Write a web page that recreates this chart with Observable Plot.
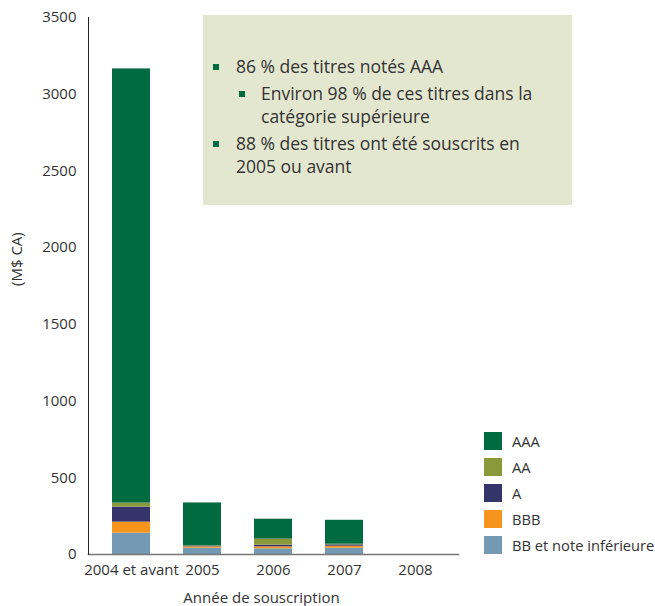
<!DOCTYPE html>
<html>
<head>
<meta charset="utf-8">
<script src="https://cdn.jsdelivr.net/npm/d3@7"></script>
<script src="https://cdn.jsdelivr.net/npm/@observablehq/plot@0.6"></script>
<style>
  body { margin: 0; background: #fff; font-family: "Open Sans", sans-serif; }
  #wrap { position: relative; width: 655px; height: 606px; }
  #note { position: absolute; left: 203px; top: 15px; width: 369px; height: 190px; background: #e4e7d0; box-sizing: border-box; padding-top: 40px; padding-right: 20px; color: #333; font-size: 17.5px; line-height: 23px; }
  #note .b { position: relative; padding-left: 33px; margin: 0; }
  #note .b.sub { padding-left: 58px; }
  #note .b::before { content: ""; position: absolute; left: 10px; top: 9px; width: 6px; height: 6px; background: #006a40; }
  #note .b.sub::before { left: 36px; }
  #note .b + .b { margin-top: 4px; }
  #legend { position: absolute; left: 484px; top: 432px; font-size: 14.7px; color: #333; }
  #legend .item { display: flex; align-items: center; height: 18px; margin-bottom: 8px; }
  #legend .sw { width: 18px; height: 18px; margin-right: 10px; flex: none; }
</style>
</head>
<body>
<div id="wrap"></div>
<script>
const years = ["2004 et avant", "2005", "2006", "2007", "2008"];
const ratings = ["BB et note inférieure", "BBB", "A", "AA", "AAA"];
const legendOrder = ["AAA", "AA", "A", "BBB", "BB et note inférieure"];
const colors = ["#7399b4", "#f7941d", "#34336a", "#8a9a3b", "#006a40"];
// values per rating, by year
const bbLow = [139, 41, 37, 41, 0];
const bbb   = [72, 9, 13, 13, 0];
const aVals = [98, 4, 11, 9, 0];
const aa    = [26, 2, 39, 4, 0];
const aaa   = [2830, 280, 130, 156, 0];
const yTicks = [0, 500, 1000, 1500, 2000, 2500, 3000, 3500];
const notes = [
  {text: "86 % des titres notés AAA", sub: false},
  {text: "Environ 98 % de ces titres dans la catégorie supérieure", sub: true},
  {text: "88 % des titres ont été souscrits en 2005 ou avant", sub: false}
];

const series = [bbLow, bbb, aVals, aa, aaa];
const data = [];
ratings.forEach((r, i) => years.forEach((y, j) => data.push({year: y, rating: r, value: series[i][j]})));

const chart = Plot.plot({
  width: 655,
  height: 606,
  marginTop: 17,
  marginBottom: 52,
  marginLeft: 88,
  marginRight: 197,
  style: {fontFamily: "Open Sans", fontSize: "15px", color: "#333", background: "#fff"},
  x: {domain: years, padding: 0.47, paddingOuter: 0.322, label: null},
  y: {domain: [0, 3500], label: null},
  color: {domain: ratings, range: colors},
  marks: [
    Plot.barY(data, {x: "year", y: "value", fill: "rating", order: ratings}),
    Plot.frame({anchor: "bottom", stroke: "#777", strokeWidth: 1.5}),
    Plot.frame({anchor: "left", stroke: "#222", strokeWidth: 1}),
    Plot.axisX({tickSize: 0, tickPadding: 10, label: null, fontSize: 15}),
    Plot.axisY({ticks: yTicks, tickFormat: d => String(d), tickSize: 0, tickPadding: 12, label: null, fontSize: 15}),
    Plot.text(["Année de souscription"], {frameAnchor: "bottom", dx: -12, dy: 48, fontSize: 15, fill: "#333"}),
    Plot.text(["(M$ CA)"], {frameAnchor: "left", dx: -71, rotate: -90, fontSize: 15, fill: "#333"})
  ]
});

const wrap = document.getElementById("wrap");
wrap.appendChild(chart);

const note = document.createElement("div");
note.id = "note";
notes.forEach(n => {
  const p = document.createElement("p");
  p.className = "b" + (n.sub ? " sub" : "");
  p.textContent = n.text;
  note.appendChild(p);
});
wrap.appendChild(note);

const legend = document.createElement("div");
legend.id = "legend";
legendOrder.forEach(r => {
  const it = document.createElement("div");
  it.className = "item";
  const sw = document.createElement("span");
  sw.className = "sw";
  sw.style.background = colors[ratings.indexOf(r)];
  const t = document.createElement("span");
  t.textContent = r;
  it.appendChild(sw); it.appendChild(t);
  legend.appendChild(it);
});
wrap.appendChild(legend);
</script>
</body>
</html>
